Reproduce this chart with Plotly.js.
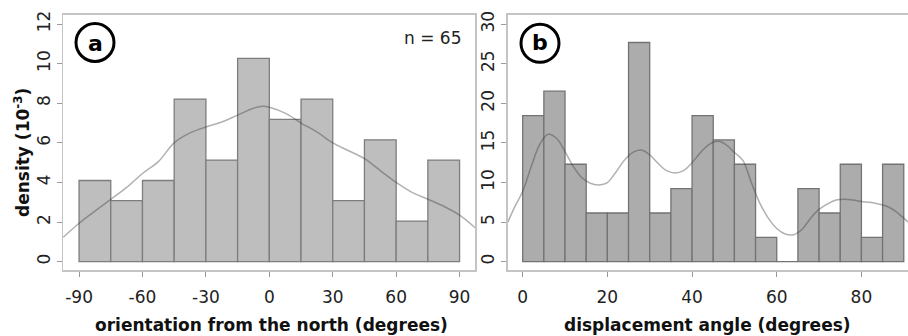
<!DOCTYPE html>
<html>
<head>
<meta charset="utf-8">
<script src="https://cdn.plot.ly/plotly-3.0.1.min.js"></script>
<style>html,body{margin:0;padding:0;background:#fff;}#chart{width:908px;height:336px;}</style>
</head>
<body>
<div id="chart"></div>
<script>
// Panel (a): orientation from the north, 15-degree bins
const orientBinCenters = [-82.5, -67.5, -52.5, -37.5, -22.5, -7.5, 7.5, 22.5, 37.5, 52.5, 67.5, 82.5];
const orientDensity = [4.10, 3.08, 4.10, 8.21, 5.13, 10.26, 7.18, 8.21, 3.08, 6.15, 2.05, 5.13];
const orientKdeX = [-97.5, -90, -82.5, -75, -67.5, -60, -52.5, -45, -37.5, -30, -22.5, -15, -7.5, -3, 0, 7.5, 15, 22.5, 30, 37.5, 45, 52.5, 60, 67.5, 75, 82.5, 90, 97.5];
const orientKdeY = [1.23, 1.94, 2.55, 3.15, 3.75, 4.45, 5.05, 6.0, 6.5, 6.8, 7.05, 7.4, 7.75, 7.85, 7.8, 7.5, 7.0, 6.55, 6.0, 5.6, 5.2, 4.6, 4.0, 3.5, 3.15, 2.8, 2.35, 1.7];
const orientTicks = [-90, -60, -30, 0, 30, 60, 90];
const orientYTicks = [0, 2, 4, 6, 8, 10, 12];

// Panel (b): displacement angle, 5-degree bins
const dispBinCenters = [2.5, 7.5, 12.5, 17.5, 22.5, 27.5, 32.5, 37.5, 42.5, 47.5, 52.5, 57.5, 62.5, 67.5, 72.5, 77.5, 82.5, 87.5];
const dispDensity = [18.46, 21.54, 12.31, 6.15, 6.15, 27.69, 6.15, 9.23, 18.46, 15.38, 12.31, 3.08, 0, 9.23, 6.15, 12.31, 3.08, 12.31];
const dispKdeX = [-3.5, -2, 0, 2, 4, 6, 8, 10, 12, 14, 16, 18, 20, 22, 24, 26, 28, 30, 32, 34, 36, 38, 40, 42, 44, 46, 48, 50, 52, 54, 56, 58, 60, 62, 64, 66, 68, 70, 72, 74, 76, 78, 80, 82, 84, 86, 88, 90, 91];
const dispKdeY = [5.0, 6.8, 8.9, 12.0, 14.8, 16.1, 15.6, 13.9, 12.0, 10.6, 9.9, 9.7, 10.0, 11.3, 12.8, 13.8, 14.1, 13.5, 12.4, 11.5, 11.2, 11.5, 12.5, 13.8, 14.8, 15.2, 14.8, 13.8, 12.8, 10.0, 7.4, 5.5, 4.2, 3.5, 3.4, 4.1, 5.5, 6.6, 7.3, 7.8, 7.9, 7.8, 7.6, 7.5, 7.3, 7.0, 6.4, 5.5, 5.0];
const dispTicks = [0, 20, 40, 60, 80];
const dispYTicks = [0, 5, 10, 15, 20, 25, 30];

const FONT = 'DejaVu Sans, sans-serif';
const W = 908, H = 336;
const px = v => v / W, py = v => 1 - v / H;

const traces = [
  {type: 'bar', x: orientBinCenters, y: orientDensity, width: 15, xaxis: 'x', yaxis: 'y',
   marker: {color: 'rgb(190,190,190)', line: {color: 'rgb(125,125,125)', width: 1.3}}, hoverinfo: 'skip'},
  {type: 'scatter', mode: 'lines', x: orientKdeX, y: orientKdeY, xaxis: 'x', yaxis: 'y',
   line: {color: 'rgba(60,60,60,0.4)', width: 1.5, shape: 'spline'}, hoverinfo: 'skip'},
  {type: 'bar', x: dispBinCenters, y: dispDensity, width: 5, xaxis: 'x2', yaxis: 'y2',
   marker: {color: 'rgb(172,172,172)', line: {color: 'rgb(115,115,115)', width: 1.3}}, hoverinfo: 'skip'},
  {type: 'scatter', mode: 'lines', x: dispKdeX, y: dispKdeY, xaxis: 'x2', yaxis: 'y2',
   line: {color: 'rgba(60,60,60,0.4)', width: 1.5, shape: 'spline'}, hoverinfo: 'skip'}
];

const axisCommon = {
  showgrid: false, zeroline: false, showline: true, linecolor: '#c4c4c4', linewidth: 1.5,
  ticks: 'outside', ticklen: 5, tickcolor: '#9a9a9a', tickwidth: 1,
  tickfont: {family: FONT, size: 17, color: '#222'}, fixedrange: true
};

const layout = {
  width: W, height: H,
  margin: {l: 0, r: 0, t: 0, b: 0},
  paper_bgcolor: '#fff', plot_bgcolor: '#fff',
  showlegend: false, bargap: 0,
  xaxis: Object.assign({}, axisCommon, {domain: [px(63), px(475)], range: [-97.6, 97.3],
    tickmode: 'array', tickvals: orientTicks, ticktext: orientTicks.map(String), mirror: true, anchor: 'y', ticklabelstandoff: 6}),
  yaxis: Object.assign({}, axisCommon, {domain: [py(270), py(14.7)], range: [-0.42, 12.47],
    tickmode: 'array', tickvals: orientYTicks, ticktext: orientYTicks.map(String), tickangle: -90, mirror: true, anchor: 'x'}),
  xaxis2: Object.assign({}, axisCommon, {domain: [px(507.7), 1], range: [-3.54, 91.0],
    tickmode: 'array', tickvals: dispTicks, ticktext: dispTicks.map(String), mirror: true, anchor: 'y2', ticklabelstandoff: 6}),
  yaxis2: Object.assign({}, axisCommon, {domain: [py(270), py(14.7)], range: [-1.05, 31.2],
    tickmode: 'array', tickvals: dispYTicks, ticktext: dispYTicks.map(String), tickangle: -90, anchor: 'x2'}),
  shapes: [
    {type: 'circle', xref: 'paper', yref: 'paper', x0: px(76), x1: px(114), y0: py(61.5), y1: py(23.5),
     line: {color: '#000', width: 3}},
    {type: 'circle', xref: 'paper', yref: 'paper', x0: px(521), x1: px(559), y0: py(62.3), y1: py(24.3),
     line: {color: '#000', width: 3}}
  ],
  annotations: [
    {xref: 'paper', yref: 'paper', x: px(95), y: py(43), text: '<b>a</b>', showarrow: false,
     font: {family: FONT, size: 22, color: '#000'}, xanchor: 'center', yanchor: 'middle'},
    {xref: 'paper', yref: 'paper', x: px(540), y: py(42), text: '<b>b</b>', showarrow: false,
     font: {family: FONT, size: 22, color: '#000'}, xanchor: 'center', yanchor: 'middle'},
    {xref: 'paper', yref: 'paper', x: px(432), y: py(38), text: 'n = 65', showarrow: false,
     font: {family: FONT, size: 17, color: '#222'}, xanchor: 'center', yanchor: 'middle'},
    {xref: 'paper', yref: 'paper', x: px(271), y: py(325), text: '<b>orientation from the north (degrees)</b>', showarrow: false,
     font: {family: FONT, size: 17, color: '#111'}, xanchor: 'center', yanchor: 'middle'},
    {xref: 'paper', yref: 'paper', x: px(707), y: py(325), text: '<b>displacement angle (degrees)</b>', showarrow: false,
     font: {family: FONT, size: 17, color: '#111'}, xanchor: 'center', yanchor: 'middle'},
    {xref: 'paper', yref: 'paper', x: px(22), y: py(153), text: '<b>density (10<sup>-3</sup>)</b>', showarrow: false, textangle: -90,
     font: {family: FONT, size: 17, color: '#111'}, xanchor: 'center', yanchor: 'middle'}
  ]
};

Plotly.newPlot('chart', traces, layout, {displayModeBar: false, staticPlot: true});
</script>
</body>
</html>
